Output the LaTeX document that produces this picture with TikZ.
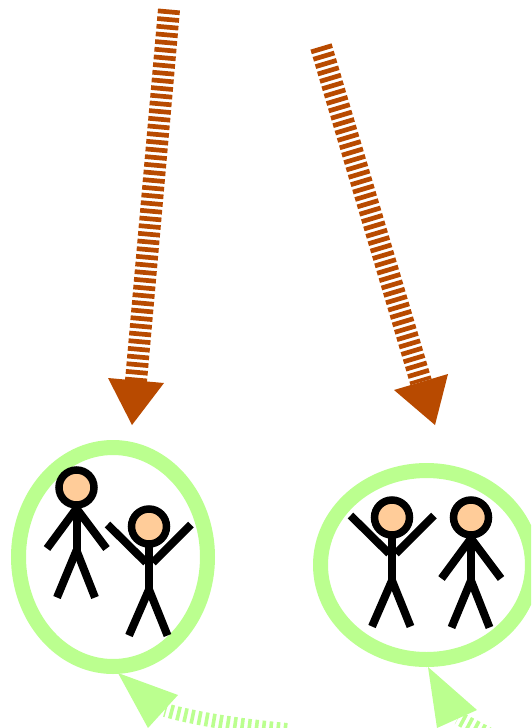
\documentclass[tikz,border=0pt]{standalone}
\usetikzlibrary{shapes.geometric}
\definecolor{rust}{HTML}{B84A00}
\definecolor{lime}{HTML}{BBFF8F}
\definecolor{skin}{HTML}{FFCC99}
\tikzset{
  x=1pt,y=-1pt,
  rustline/.style={draw=rust,line width=22pt,dash pattern=on 4.7pt off 3pt},
  limeline/.style={draw=lime,line width=14pt,dash pattern=on 3.6pt off 3.6pt},
  rusthead/.style={fill=rust,draw=none},
  limehead/.style={fill=lime,draw=none},
  ring/.style={ellipse,draw=lime,line width=15pt,fill=white,inner sep=0pt,outer sep=0pt},
  limb/.style={draw=black,line width=8pt},
  headcircle/.style={circle,draw=black,fill=skin,line width=7.5pt,minimum size=35pt,inner sep=0pt,outer sep=0pt},
}
\newcommand{\figurearmsdown}[3]{%
  \draw[limb] (#2,#3+18) -- (#2,#3+63);
  \draw[limb] (#2,#3+21) -- (#2-29.5,#3+61);
  \draw[limb] (#2,#3+21) -- (#2+30,#3+61);
  \draw[limb] (#2,#3+63) -- (#2-19.5,#3+110);
  \draw[limb] (#2,#3+63) -- (#2+18.5,#3+110);
  \node[headcircle] (#1) at (#2,#3) {};
}
\newcommand{\figurearmsup}[3]{%
  \draw[limb] (#2,#3+18) -- (#2,#3+63);
  \draw[limb] (#2-41.5,#3-2) -- (#2-3,#3+36);
  \draw[limb] (#2+42,#3-2) -- (#2+4,#3+36);
  \draw[limb] (#2,#3+63) -- (#2-20,#3+109);
  \draw[limb] (#2,#3+63) -- (#2+18.5,#3+109);
  \node[headcircle] (#1) at (#2,#3) {};
}
\begin{document}
\begin{tikzpicture}
\useasboundingbox (0,0) rectangle (531,728);
\clip (0,0) rectangle (531,728);
% top arrows
\coordinate (a1s) at (169,9.5);
\coordinate (a1e) at (136,381);
\coordinate (a2s) at (321,46.5);
\coordinate (a2e) at (421,382);
\draw[rustline] (a1s) -- (a1e);
\draw[rustline] (a2s) -- (a2e);
\coordinate (a1l) at (108,378);
\coordinate (a1r) at (164,383);
\coordinate (a1t) at (132,425);
\coordinate (a2l) at (394,390);
\coordinate (a2r) at (448,374);
\coordinate (a2t) at (435,425);
\fill[rusthead] (a1l) -- (a1r) -- (a1t) -- cycle;
\fill[rusthead] (a2l) -- (a2r) -- (a2t) -- cycle;
% rings
\node[ring,minimum width=189pt,minimum height=219pt] (r1) at (113,557) {};
\node[ring,minimum width=212pt,minimum height=189pt] (r2) at (426.5,565) {};
% people
\figurearmsdown{p1}{76.5}{487.5}
\figurearmsup{p2}{149}{526.5}
\figurearmsup{p3}{392}{517.5}
\figurearmsdown{p4}{471}{517.5}
% green arrows
\coordinate (g1s) at (287,730);
\coordinate (g1e) at (165,710);
\coordinate (g2s) at (490,735);
\coordinate (g2e) at (458,718);
\draw[limeline] (g1s) .. controls (245,726) and (200,720) .. (g1e);
\draw[limeline] (g2s) -- (g2e);
\coordinate (g1a) at (178,695);
\coordinate (g1b) at (148,728);
\coordinate (g1t) at (118,673);
\coordinate (g2a) at (477,710);
\coordinate (g2b) at (437,728);
\coordinate (g2t) at (428,667);
\fill[limehead] (g1a) -- (g1b) -- (g1t) -- cycle;
\fill[limehead] (g2a) -- (g2b) -- (g2t) -- cycle;
\end{tikzpicture}
\end{document}
